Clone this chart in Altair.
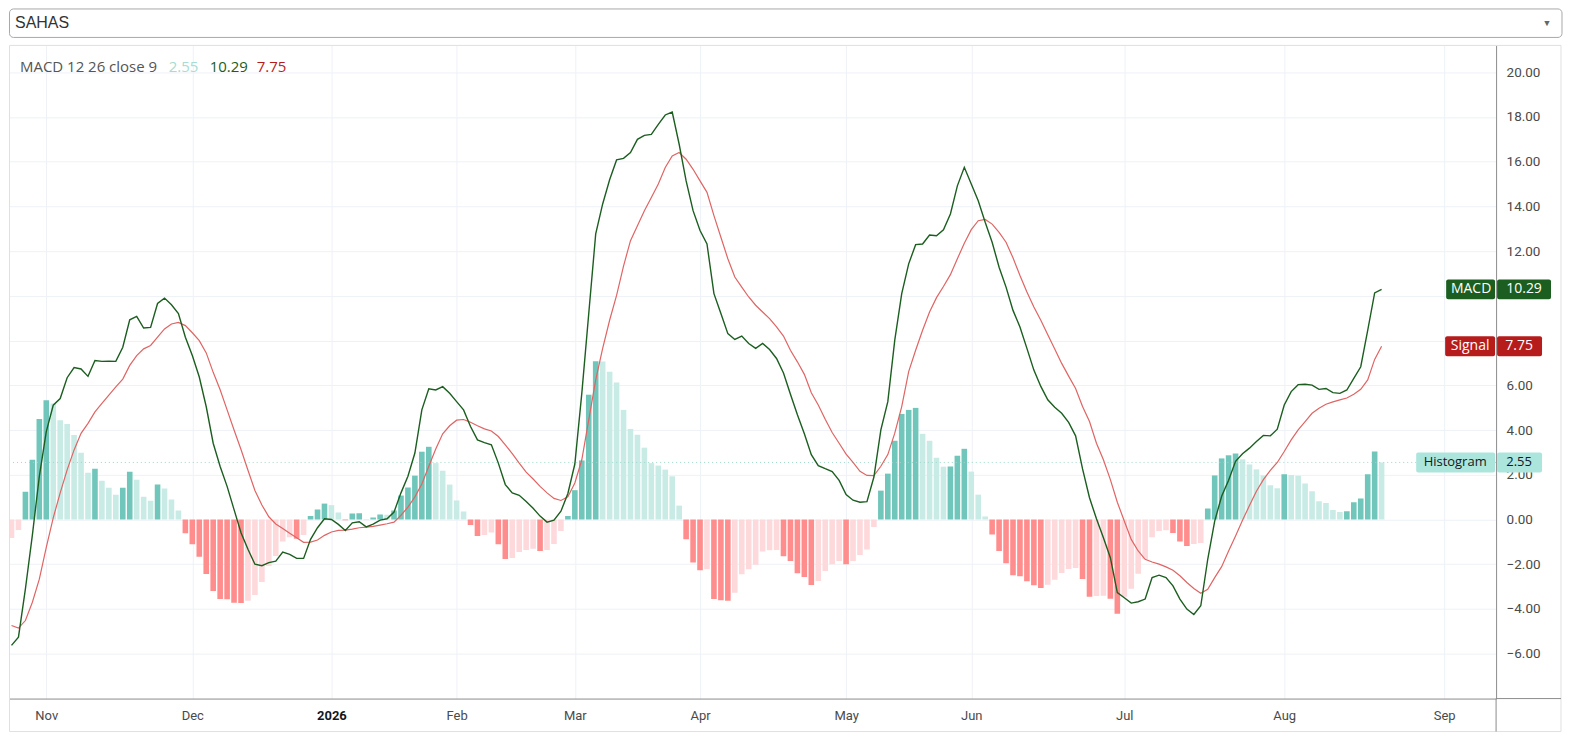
import altair as alt
import pandas as pd

# ---------------- data ----------------
hist = [
    -0.83, -0.47, 1.24, 2.67, 4.49, 5.33, 5.19, 4.44, 4.27, 3.78,
    2.98, 2.09, 2.27, 1.73, 1.42, 1.11, 1.42, 2.13, 1.78, 1.02,
    0.84, 1.56, 1.38, 0.89, 0.40, -0.62, -1.11, -1.67, -2.44, -3.20,
    -3.56, -3.57, -3.72, -3.74, -3.64, -3.38, -2.80, -2.08, -1.63, -0.98,
    -0.80, -0.86, -0.70, 0.15, 0.45, 0.71, 0.64, 0.31, -0.03, 0.27,
    0.28, 0.02, 0.09, 0.22, 0.21, 0.40, 1.07, 1.43, 1.96, 3.03,
    3.25, 2.52, 2.18, 1.56, 0.85, 0.36, -0.25, -0.74, -0.70, -0.58,
    -1.11, -1.77, -1.72, -1.45, -1.36, -1.31, -1.41, -1.37, -1.10, -0.52,
    0.15, 1.31, 2.64, 5.58, 7.08, 7.07, 6.61, 6.12, 4.90, 4.05,
    3.79, 3.21, 2.52, 2.41, 2.23, 1.93, 0.62, -0.89, -1.93, -2.27,
    -2.23, -3.56, -3.61, -3.64, -3.28, -2.45, -2.23, -2.02, -1.43, -1.38,
    -1.37, -1.64, -1.86, -2.41, -2.57, -2.93, -2.75, -2.30, -2.00, -1.86,
    -2.00, -1.86, -1.59, -1.34, -0.34, 1.29, 2.05, 3.52, 4.72, 4.90,
    4.99, 3.83, 3.52, 2.76, 2.36, 2.37, 2.85, 3.16, 2.14, 1.11,
    0.13, -0.67, -1.41, -1.96, -2.49, -2.54, -2.76, -2.94, -3.07, -2.92,
    -2.70, -2.39, -2.21, -2.17, -2.66, -3.46, -3.42, -3.41, -3.55, -4.22,
    -3.46, -3.10, -2.43, -1.78, -0.79, -0.52, -0.48, -0.61, -0.98, -1.19,
    -1.10, -1.05, 0.49, 1.97, 2.73, 2.87, 2.95, 2.69, 2.46, 2.24,
    1.97, 1.53, 1.40, 2.02, 1.99, 1.96, 1.61, 1.26, 0.82, 0.74,
    0.42, 0.33, 0.37, 0.77, 0.94, 2.02, 3.04, 2.55,
]

macd = [
    -5.63, -5.26, -3.10, -0.70, 1.93, 3.93, 5.11, 5.41, 6.34, 6.79,
    6.73, 6.40, 7.11, 7.07, 7.08, 7.07, 7.70, 8.93, 9.08, 8.56,
    8.59, 9.66, 9.90, 9.60, 9.21, 8.15, 7.33, 6.37, 5.04, 3.41,
    2.37, 1.48, 0.44, -0.59, -1.33, -2.00, -2.07, -1.93, -1.86, -1.46,
    -1.56, -1.74, -1.74, -0.89, -0.37, 0.03, 0.00, -0.22, -0.49, -0.15,
    -0.10, -0.33, -0.21, -0.03, 0.03, 0.33, 1.19, 1.93, 2.97, 4.90,
    5.84, 5.79, 5.94, 5.64, 5.27, 4.90, 4.16, 3.56, 3.44, 3.34,
    2.52, 1.56, 1.19, 1.08, 0.80, 0.50, 0.15, -0.12, -0.03, 0.37,
    1.16, 2.48, 5.64, 9.21, 12.77, 14.11, 15.19, 16.08, 16.15, 16.41,
    17.00, 17.18, 17.22, 17.67, 18.09, 18.22, 16.78, 15.14, 13.81, 12.92,
    12.32, 10.10, 9.21, 8.31, 8.05, 8.20, 7.87, 7.65, 7.87, 7.60,
    7.20, 6.55, 5.60, 4.68, 3.83, 2.90, 2.41, 2.27, 2.14, 1.75,
    1.11, 0.86, 0.77, 0.80, 1.90, 4.01, 5.27, 8.02, 10.10, 11.43,
    12.29, 12.32, 12.72, 12.69, 12.95, 13.66, 14.92, 15.75, 15.00, 14.25,
    13.29, 12.40, 11.28, 10.39, 9.35, 8.61, 7.65, 6.68, 5.95, 5.35,
    5.02, 4.75, 4.34, 3.74, 2.26, 0.97, 0.03, -0.82, -1.71, -3.27,
    -3.50, -3.74, -3.68, -3.56, -2.60, -2.49, -2.60, -2.97, -3.56, -4.01,
    -4.25, -3.86, -1.78, -0.07, 1.04, 1.75, 2.60, 2.94, 3.19, 3.49,
    3.76, 3.74, 4.04, 5.12, 5.72, 6.03, 6.05, 6.01, 5.82, 5.86,
    5.67, 5.64, 5.79, 6.31, 6.83, 8.46, 10.13, 10.29,
]

signal = [
    -4.74, -4.86, -4.52, -3.70, -2.67, -1.25, 0.07, 1.19, 2.22, 3.11,
    3.85, 4.30, 4.81, 5.19, 5.56, 5.93, 6.28, 6.89, 7.33, 7.63,
    7.78, 8.15, 8.52, 8.74, 8.81, 8.67, 8.35, 8.00, 7.45, 6.58,
    5.80, 4.90, 4.00, 3.13, 2.20, 1.30, 0.65, 0.12, -0.20, -0.40,
    -0.62, -0.82, -1.02, -1.01, -0.92, -0.71, -0.56, -0.49, -0.48, -0.43,
    -0.37, -0.34, -0.31, -0.25, -0.19, -0.12, 0.19, 0.55, 1.01, 1.59,
    2.38, 3.15, 3.83, 4.19, 4.44, 4.47, 4.35, 4.19, 4.05, 3.96,
    3.71, 3.34, 2.94, 2.52, 2.12, 1.81, 1.48, 1.19, 0.94, 0.85,
    1.01, 1.63, 2.67, 4.45, 6.24, 7.65, 8.91, 10.02, 11.33, 12.47,
    13.14, 13.81, 14.40, 15.00, 15.74, 16.26, 16.41, 16.11, 15.66, 15.14,
    14.63, 13.59, 12.62, 11.66, 10.84, 10.39, 9.95, 9.58, 9.28, 8.98,
    8.61, 8.20, 7.57, 7.05, 6.49, 5.67, 5.12, 4.48, 3.89, 3.41,
    2.92, 2.55, 2.15, 1.97, 1.96, 2.38, 2.90, 3.86, 5.05, 6.61,
    7.57, 8.46, 9.28, 9.92, 10.42, 10.95, 11.66, 12.35, 12.96, 13.36,
    13.42, 13.21, 12.84, 12.40, 11.70, 10.91, 10.17, 9.50, 8.91, 8.26,
    7.62, 6.98, 6.41, 5.86, 5.05, 4.38, 3.41, 2.67, 1.78, 0.77,
    -0.07, -0.89, -1.41, -1.78, -1.90, -2.00, -2.12, -2.27, -2.52, -2.82,
    -3.09, -3.30, -3.12, -2.60, -2.11, -1.41, -0.74, -0.03, 0.62, 1.26,
    1.78, 2.20, 2.55, 3.04, 3.56, 4.01, 4.38, 4.75, 4.97, 5.15,
    5.26, 5.35, 5.43, 5.60, 5.82, 6.24, 7.16, 7.75,
]

month_pos = [5, 26, 46, 64, 81, 99, 120, 138, 160, 183, 206]
month_lab = ["Nov", "Dec", "2026", "Feb", "Mar", "Apr", "May", "Jun", "Jul", "Aug", "Sep"]
y_ticks = [-6, -4, -2, 0, 2, 4, 6, 8, 10, 12, 14, 16, 18, 20]
hidden_ticks = [8, 10]   # covered by the MACD / Signal price labels in the reference
symbol = "SAHAS"
legend_title = "MACD 12 26 close 9"

# ---------------- tables ----------------
n = len(hist)
cols = []
for i, v in enumerate(hist):
    prev = hist[i - 1] if i > 0 else float("-inf")
    if v >= 0:
        cols.append("grow_up" if v > prev else "fall_up")
    else:
        cols.append("fall_dn" if v < prev else "grow_dn")

df = pd.DataFrame({"i": list(range(n)), "hist": hist, "macd": macd,
                   "signal": signal, "col": cols})
last = pd.DataFrame({"hist": [hist[-1]], "macd": [macd[-1]], "signal": [signal[-1]]})

# ---------------- styling ----------------
W, H = 1489, 654
FONT = "Roboto"
LFONT = "Open Sans"
GRID = "#EEF1F6"
AXIS_LINE = "#8C8C8C"
TXT = "#4A4A4A"
MACD_C = "#1B5E20"
SIG_LINE = "#E06464"
SIG_BOX = "#B71C1C"
HIST_BOX = "#ACE5DC"

xs = alt.Scale(domain=[-0.36, 213.46], nice=False, zero=False, padding=0)
ys = alt.Scale(domain=[-8.01, 21.2], nice=False, zero=False, padding=0)

label_expr = " : ".join(f"datum.value == {p} ? '{l}'" for p, l in zip(month_pos, month_lab)) + " : ''"
bold_pos = month_pos[month_lab.index("2026")]
hide_test = " || ".join(f"datum.value == {v}" for v in hidden_ticks)
y_label_expr = f"({hide_test}) ? '' : format(datum.value, '.2f')"

x_axis = alt.Axis(
    values=month_pos, labelExpr=label_expr, title=None, grid=True, gridColor=GRID,
    ticks=False, domainColor=AXIS_LINE, labelFont=FONT, labelFontSize=13,
    labelColor={"condition": {"test": f"datum.value == {bold_pos}", "value": "#131722"}, "value": TXT},
    labelFontWeight={"condition": {"test": f"datum.value == {bold_pos}", "value": "bold"}, "value": "normal"},
    labelPadding=11, labelFlush=False,
)
y_axis = alt.Axis(
    values=y_ticks, labelExpr=y_label_expr, orient="right", title=None, grid=True, gridColor=GRID,
    ticks=False, domainColor=AXIS_LINE, labelFont=FONT, labelFontSize=13.5, labelColor=TXT,
    labelPadding=10, labelFlush=False, labelAlign="left",
)

X = alt.X("i:Q", scale=xs, axis=x_axis)


def Y(field):
    return alt.Y(f"{field}:Q", scale=ys, axis=y_axis)


base = alt.Chart(df)

bars = base.mark_bar(orient="vertical", size=5.6, clip=True).encode(
    x=X,
    y=Y("hist"),
    y2=alt.datum(0),
    color=alt.Color("col:N", legend=None, scale=alt.Scale(
        domain=["grow_up", "fall_up", "grow_dn", "fall_dn"],
        range=["#70C6BA", "#C8EBE5", "#FDD9DC", "#FF8D8D"])),
)

hist_rule = alt.Chart(last).mark_rule(color="#9ED6CD", strokeDash=[1, 3], strokeWidth=1).encode(
    y=Y("hist")
)

sig_line = base.mark_line(color=SIG_LINE, strokeWidth=1.2, clip=True).encode(x=X, y=Y("signal"))
macd_line = base.mark_line(color=MACD_C, strokeWidth=1.4, clip=True).encode(x=X, y=Y("macd"))

lc = alt.Chart(last)

# extra frame lines / card
card = lc.mark_rect(fillOpacity=0, stroke="#E0E0E0", strokeWidth=1).encode(
    x=alt.value(0.5), x2=alt.value(1554), y=alt.value(0), y2=alt.value(687))
ax_ext_v = lc.mark_rule(color=AXIS_LINE, strokeWidth=1).encode(
    x=alt.value(W), y=alt.value(H), y2=alt.value(687))
ax_ext_h = lc.mark_rule(color=AXIS_LINE, strokeWidth=1).encode(
    x=alt.value(W), x2=alt.value(1554), y=alt.value(H))

# symbol selector box
sel_box = lc.mark_rect(fill="white", stroke="#A8A8A8", strokeWidth=1, cornerRadius=4).encode(
    x=alt.value(0.5), x2=alt.value(1555), y=alt.value(-36.5), y2=alt.value(-8))
sel_txt = lc.mark_text(align="left", baseline="middle", font="Liberation Sans", fontSize=16,
                       color="#333333").encode(
    x=alt.value(6), y=alt.value(-22), text=alt.value(symbol))
sel_arrow = lc.mark_text(align="center", baseline="middle", fontSize=9, color="#666666").encode(
    x=alt.value(1540), y=alt.value(-22), text=alt.value("▼"))

# legend line top-left
leg_title = lc.mark_text(align="left", baseline="middle", font=LFONT, fontSize=15, color="#555555").encode(
    x=alt.value(11), y=alt.value(22), text=alt.value(legend_title))
leg_h = lc.mark_text(align="left", baseline="middle", font=LFONT, fontSize=15, color="#A6DCD3").encode(
    x=alt.value(160), y=alt.value(22), text=alt.Text("hist:Q", format=".2f"))
leg_m = lc.mark_text(align="left", baseline="middle", font=LFONT, fontSize=15, color=MACD_C).encode(
    x=alt.value(201), y=alt.value(22), text=alt.Text("macd:Q", format=".2f"))
leg_s = lc.mark_text(align="left", baseline="middle", font=LFONT, fontSize=15, color=SIG_BOX).encode(
    x=alt.value(248), y=alt.value(22), text=alt.Text("signal:Q", format=".2f"))


def price_label(field, name, bg, fg, x0, x_mid, x_end, name_center, value_center, fs=14):
    left = lc.mark_bar(orient="horizontal", size=20, color=bg, cornerRadius=2).encode(
        y=Y(field), x=alt.value(x0), x2=alt.value(x_mid))
    right = lc.mark_bar(orient="horizontal", size=20, color=bg, cornerRadius=2).encode(
        y=Y(field), x=alt.value(x_mid + 2), x2=alt.value(x_end))
    t1 = lc.mark_text(align="center", baseline="middle", font=LFONT, fontSize=fs, color=fg).encode(
        y=Y(field), x=alt.value(name_center), text=alt.value(name))
    t2 = lc.mark_text(align="center", baseline="middle", font=LFONT, fontSize=fs, color=fg).encode(
        y=Y(field), x=alt.value(value_center), text=alt.Text(f"{field}:Q", format=".2f"))
    return [left, right, t1, t2]


labels = (price_label("macd", "MACD", MACD_C, "white", 1439, 1488, 1544, 1464, 1517)
          + price_label("signal", "Signal", SIG_BOX, "white", 1438, 1488, 1535, 1463, 1512)
          + price_label("hist", "Histogram", HIST_BOX, "#131722", 1409, 1488, 1535, 1448, 1512, fs=13))

chart = alt.layer(
    bars, hist_rule, sig_line, macd_line, card, ax_ext_v, ax_ext_h,
    sel_box, sel_txt, sel_arrow, leg_title, leg_h, leg_m, leg_s, *labels
).properties(
    width=W, height=H, padding=0, background="white"
).configure_view(stroke=None)

chart.save("out.html", embed_options={"renderer": "svg", "actions": False})
